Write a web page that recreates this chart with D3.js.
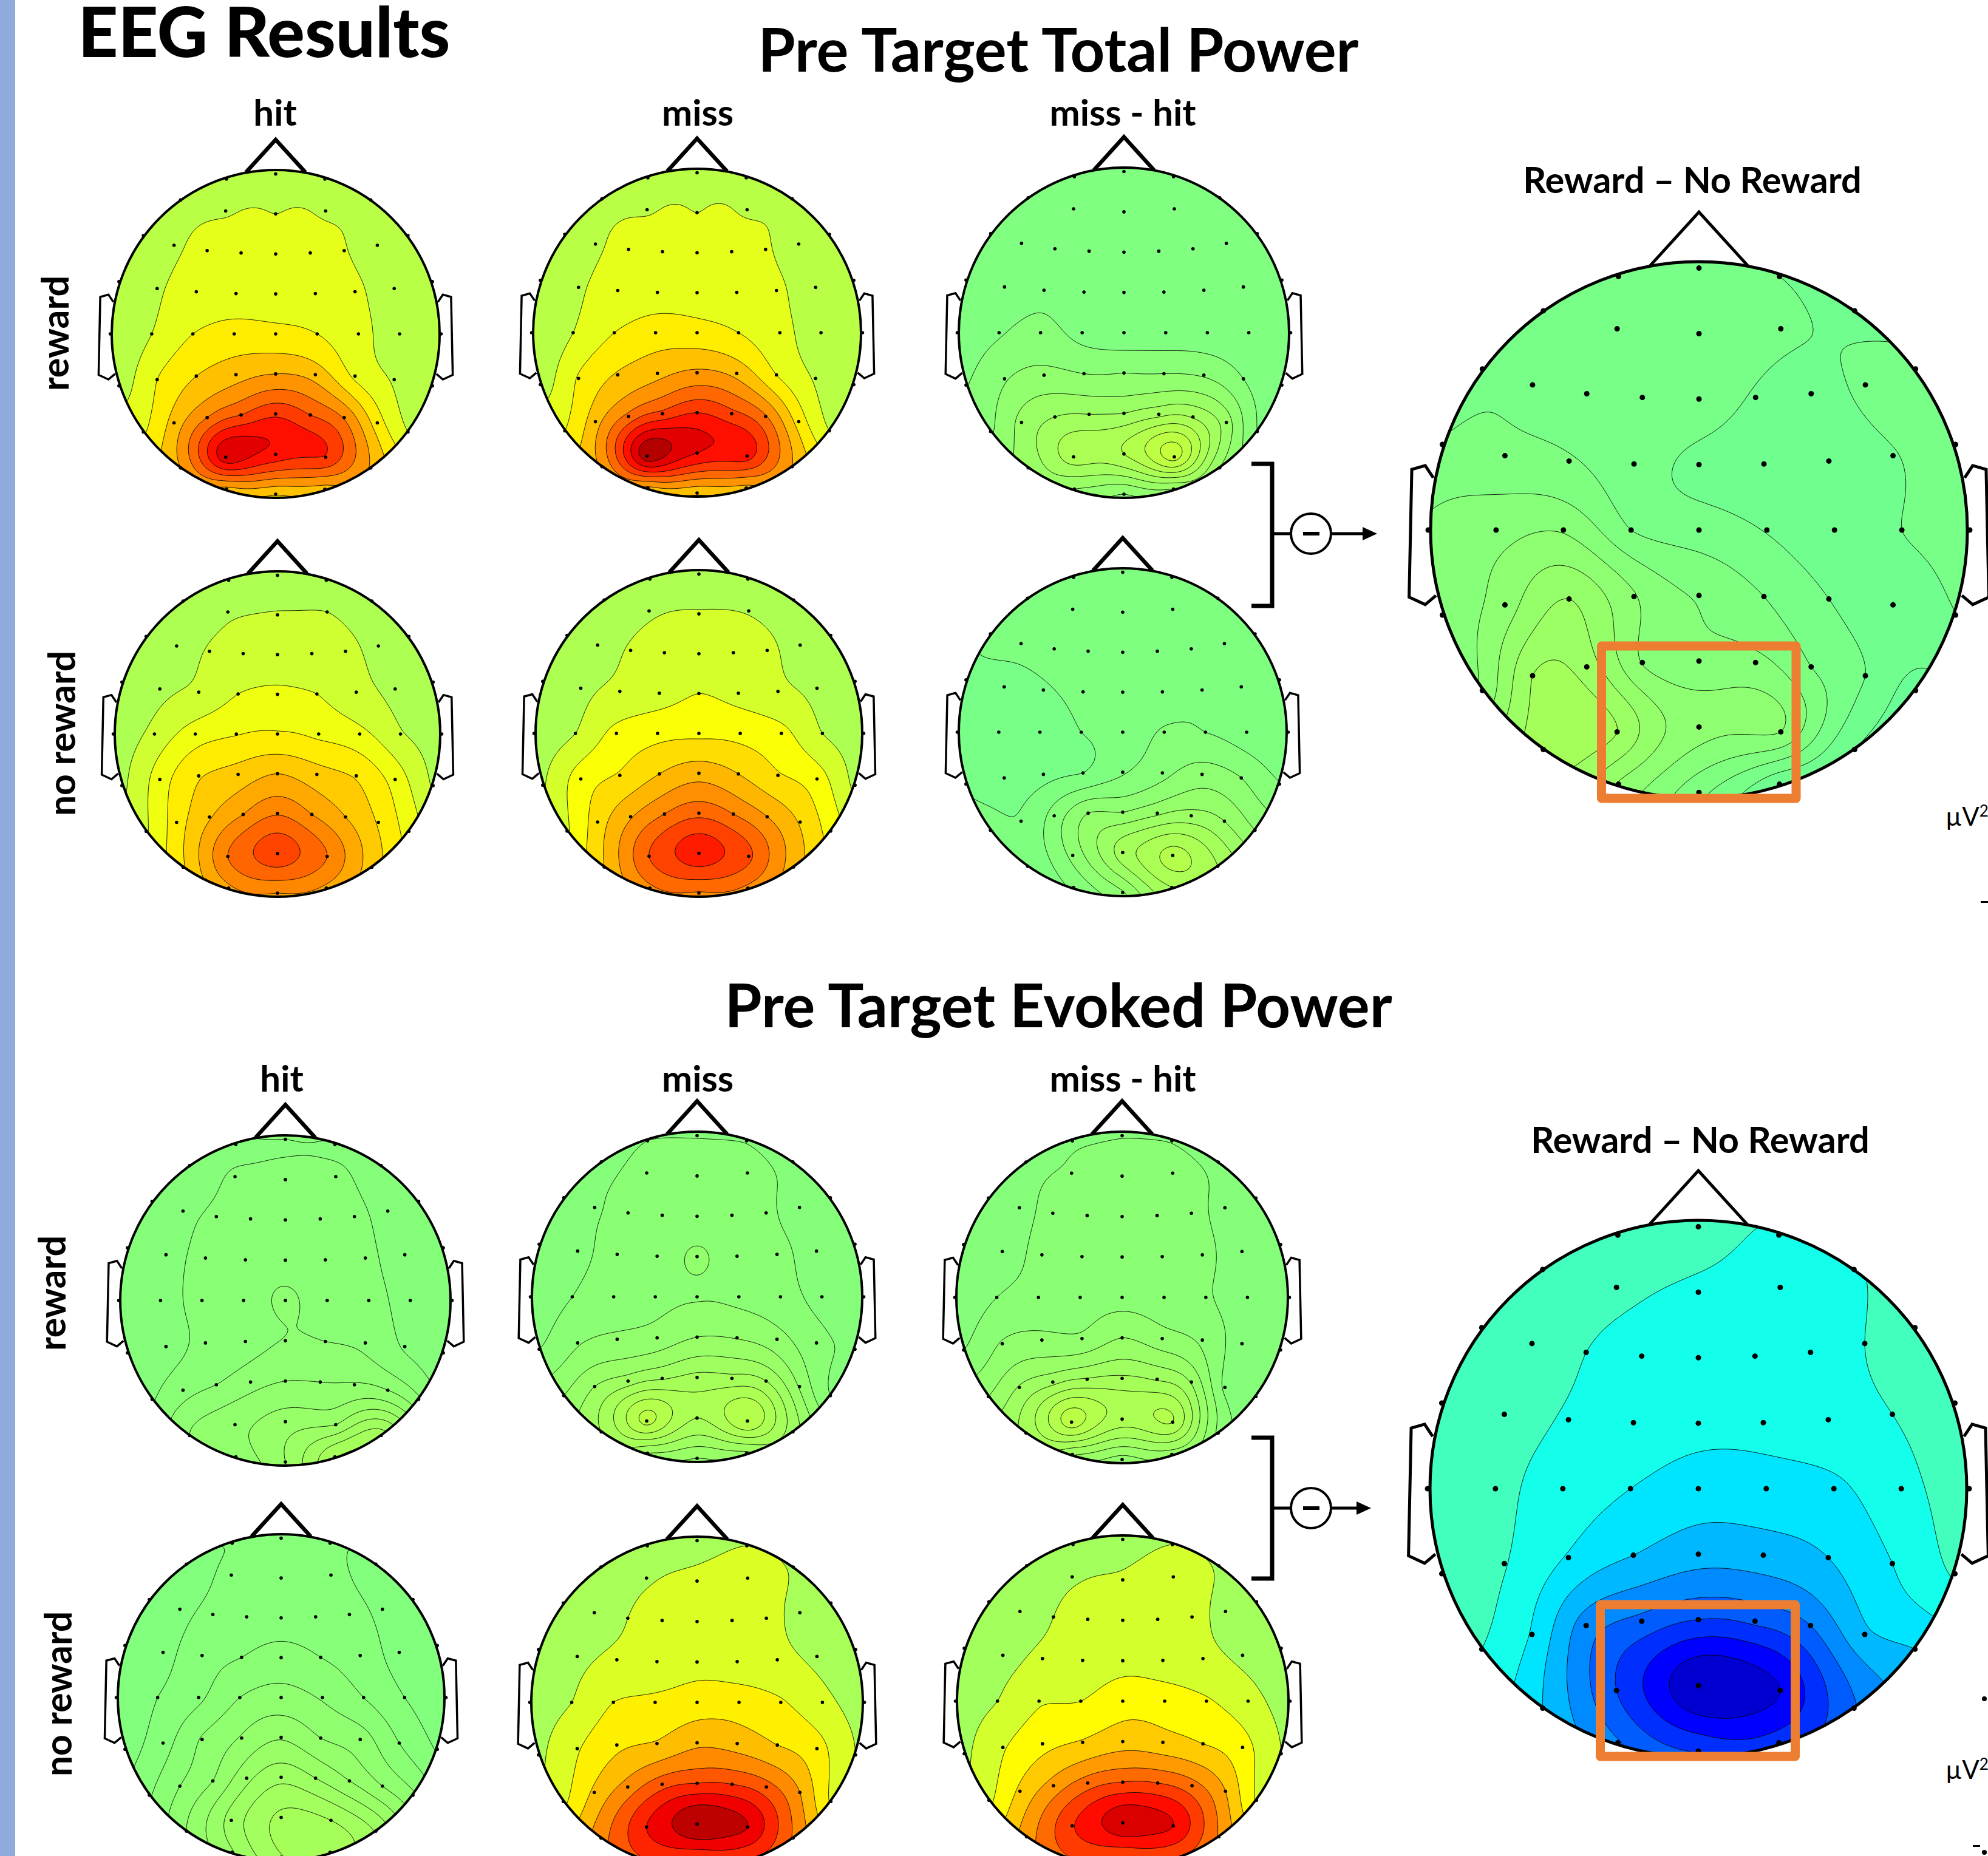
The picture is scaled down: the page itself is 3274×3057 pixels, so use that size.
<!DOCTYPE html>
<html>
<head>
<meta charset="utf-8">
<script src="https://cdnjs.cloudflare.com/ajax/libs/d3/7.8.5/d3.min.js"></script>
<style>
  body { margin: 0; background: #fff; }
  text { font-family: Lato, "Open Sans", sans-serif; fill: #000; }
</style>
</head>
<body>
<div class="chart"></div>
<script>
// 61 channel montage, head units (row by row, front to back)
const elecX = [0, -.30,.30, -.58,.58, -.305,0,.305, -.807,.807,
  -.62,-.418,-.211,0,.211,.418,.62, -.956,.956,
  -.723,-.484,-.242,0,.242,.484,.723,
  -1.009,-.756,-.505,-.253,0,.253,.505,.756,1.009, -.956,.956,
  -.723,-.484,-.242,0,.242,.484,.723, -.807,.807,
  -.62,-.418,-.211,0,.211,.418,.62, -.58,.58, -.305,0,.305, -.30,0,.30];
const elecY = [.976, .945,.945, .817,.817, .75,.732,.75, .60,.60,
  .541,.508,.494,.488,.494,.508,.541, .319,.319,
  .277,.257,.246,.244,.246,.257,.277,
  0,0,0,0,0,0,0,0,0, -.317,-.317,
  -.279,-.257,-.248,-.244,-.248,-.257,-.279, -.598,-.598,
  -.543,-.51,-.494,-.488,-.494,-.51,-.543, -.818,-.818, -.752,-.734,-.752, -.947,-.978,-.947];

// channel values, in contour-band units
const totalHitReward = [.3, .3,.3, .3,.3, .92,1.0,.9, .3,.3,
  .88,1.2,1.4,1.4,1.4,1.05,.6, .2,.2,
  .9,1.3,1.5,1.5,1.5,1.2,.5,
  .2,1.0,2.0,2.4,2.3,2.0,1.3,.6,.2, .6,.2,
  2.0,3.0,3.6,4.0,3.6,1.8,.9, 1.9,1.0,
  3.4,5.0,6.0,6.8,6.0,4.9,2.5, 4.0,3.9, 8.6,7.6,6.9, 3.7,3.1,3.6];
const totalMissReward = [.3, .3,.3, .3,.3, .92,1.0,.9, .3,.3,
  .88,1.25,1.5,1.5,1.5,1.1,.6, .2,.2,
  .9,1.3,1.6,1.6,1.5,1.2,.5,
  .2,1.0,2.0,2.5,2.4,2.0,1.3,.6,.2, .6,.2,
  2.1,3.1,3.7,4.2,3.7,2.0,.9, 2.0,1.0,
  3.6,5.3,6.3,7.0,6.3,5.1,2.6, 4.2,4.0, 9.6,8.0,7.4, 3.8,3.2,3.7];
const totalDiffReward = [.1, .1,.1, .1,.1, .1,.1,.1, .1,.1,
  .1,.1,.1,.1,.1,.1,.1, .1,.1,
  .4,.75,.4,.3,.3,.3,.2,
  .2,.9,1.3,.7,.45,.5,.5,.35,.15, .95,.2,
  1.9,2.3,2.0,2.0,2.0,1.9,1.0, 1.9,1.0,
  3.3,4.0,4.0,4.0,4.7,4.9,3.5, 3.4,3.0, 5.5,6.0,8.4, 3.0,2.0,3.0];
const totalHitNoReward = [.3, .4,.4, .3,.3, .9,1.05,1.0, .3,.3,
  .75,1.05,1.3,1.4,1.3,1.2,.75, .3,.3,
  .8,1.2,2.0,2.2,2.0,1.3,.8,
  .3,1.3,2.5,2.95,3.1,2.8,2.3,1.1,.4, .8,.9,
  2.5,3.9,4.4,5.0,4.4,3.9,2.6, 1.9,2.6,
  3.5,4.9,6.0,6.9,6.0,5.0,3.9, 3.9,4.5, 7.0,8.6,7.0, 5.8,6.0,5.8];
const totalMissNoReward = [.4, .5,.4, .3,.3, .9,1.05,.95, .3,.3,
  .75,1.05,1.3,1.4,1.35,1.15,.7, .3,.3,
  .8,1.2,1.6,2.0,1.7,1.2,.8,
  .3,1.0,2.3,2.7,2.8,2.7,2.3,1.0,.4, .9,.8,
  2.5,3.1,4.0,4.6,4.0,3.1,2.5, 1.9,2.6,
  3.5,4.9,6.0,6.7,6.0,5.0,3.9, 4.0,4.5, 7.0,8.6,7.2, 5.8,5.9,5.8];
const totalDiffNoReward = [1.2, 1.3,1.3, 1.3,1.3, 1.3,1.3,1.3, 1.2,1.3,
  1.2,1.3,1.3,1.3,1.3,1.3,1.3, .8,1.2,
  .7,.9,1.2,1.3,1.4,1.9,1.5,
  .9,.5,.5,1.0,1.5,2.1,2.0,1.5,1.2, .9,2.05,
  .6,.7,1.0,1.9,2.7,3.5,3.0, 1.3,4.0,
  1.1,2.4,4.0,4.0,4.8,5.4,5.0, 1.2,7.0, 3.3,6.5,8.4, 2.2,3.9,7.0];
const evokedHitReward = [1.0, .8,.9, .5,.5, 1.2,1.4,1.3, .4,.4,
  .7,1.2,1.4,1.5,1.4,1.3,.6, .3,.3,
  .6,1.3,1.6,1.7,1.5,1.2,.6,
  .3,.6,1.3,1.6,2.12,1.6,1.3,.7,.3, .4,.3,
  .7,1.2,1.6,2.03,2.0,1.8,.9, .9,2.2,
  1.6,2.0,2.6,3.0,3.0,3.1,3.0, 3.0,7.5, 3.7,4.5,5.0, 3.4,5.0,7.9];
const evokedMissReward = [.9, 1.0,.9, .4,.5, 1.3,1.4,1.3, .5,.5,
  .9,1.3,1.5,1.6,1.5,1.2,.6, .3,.3,
  .8,1.3,1.6,2.1,1.6,1.3,.6,
  .5,1.0,1.5,1.8,1.95,1.8,1.4,.7,.3, 1.0,.9,
  1.9,2.2,2.4,3.0,2.95,2.4,1.3, 3.0,1.0,
  4.0,4.5,4.9,5.3,5.3,5.0,2.9, 5.0,4.5, 8.3,6.0,7.9, 4.0,3.0,3.8];
const evokedDiffReward = [.9, .7,.9, .4,.5, 1.1,1.3,1.4, .4,.4,
  .7,1.3,1.5,1.5,1.5,1.4,.6, .3,.3,
  .7,1.2,1.4,1.5,1.5,1.3,.5,
  .4,1.0,1.3,1.6,1.7,1.5,1.1,.6,.3, 1.0,.5,
  2.1,2.3,2.2,3.0,2.4,1.8,.6, 3.0,.4,
  4.1,4.7,5.1,5.2,4.9,3.9,.8, 5.3,1.8, 8.5,6.5,7.0, 4.1,2.6,3.5];
const evokedHitNoReward = [1.05, 1.05,1.2, .5,.5, 1.3,1.4,1.3, .4,.4,
  .7,1.3,1.5,1.6,1.5,1.4,.75, .4,.4,
  .7,1.6,2.0,2.4,2.0,1.5,.7,
  .4,1.0,1.8,3.0,3.4,2.9,2.0,1.0,.3, .6,.9,
  1.6,3.1,4.1,4.9,4.0,3.5,2.0, 1.9,3.2,
  3.0,4.0,5.7,6.7,6.0,5.0,4.0, 4.0,6.9, 6.4,8.2,8.0, 5.9,7.9,8.6];
const evokedMissNoReward = [.5, .4,1.0, .3,.9, .9,1.2,1.3, .4,.4,
  .6,1.0,1.3,1.5,1.4,1.3,.7, .4,.4,
  .8,1.2,1.4,1.7,1.5,1.3,.8,
  .4,1.0,2.0,2.2,2.5,2.5,2.1,1.3,.5, .8,1.0,
  1.9,2.8,3.1,3.8,3.6,3.0,2.4, 1.8,1.9,
  3.2,4.4,5.6,6.0,6.0,5.4,4.0, 4.6,4.9, 7.0,8.9,8.0, 6.0,5.5,6.0];
const evokedDiffNoReward = [.5, .4,1.0, .3,.9, .9,1.1,1.3, .4,.4,
  .6,1.0,1.3,1.5,1.4,1.3,.7, .4,.4,
  .7,1.2,1.4,1.7,1.5,1.3,.8,
  .4,1.0,1.9,2.0,2.6,2.5,2.1,1.4,.5, .8,1.0,
  1.9,2.7,3.1,3.6,3.4,3.0,2.4, 1.8,1.9,
  3.2,4.4,5.5,6.0,6.0,5.4,4.0, 4.5,4.9, 6.9,8.7,8.0, 6.0,5.5,6.0];
const totalRewardDiff = [2.6, 2.6,2.0, 2.6,1.6, 2.7,2.6,2.2, 2.7,2.3,
  2.75,2.7,2.6,2.5,1.9,1.6,2.2, 3.1,2.3,
  3.3,3.1,2.4,1.8,1.5,1.5,1.95,
  4.2,4.6,4.9,3.0,2.5,1.95,1.5,2.0,2.3, 4.4,1.98,
  5.5,7.0,5.1,3.9,3.0,2.0,1.6, 5.2,.7,
  8.0,7.5,4.95,4.3,4.3,3.0,2.0, 8.5,1.0, 8.0,5.4,5.0, 5.9,3.3,1.2];
const evokedRewardDiff = [.5, .5,1.2, .4,1.1, .8,1.15,1.3, .4,.5,
  .6,1.0,1.3,1.4,1.4,1.3,1.0, .4,.4,
  .6,1.1,1.4,1.7,1.7,1.4,1.0,
  .4,.75,1.5,2.0,2.5,2.4,2.2,1.3,.5, .5,.9,
  .95,2.1,3.0,3.6,3.5,3.0,2.0, 1.0,3.0,
  2.1,4.5,5.3,6.0,5.8,5.0,3.2, 3.0,5.1, 6.0,8.9,8.0, 4.9,6.1,6.5];

// colour scale of the maps: jet, position 0..1
const jet = d3.scaleLinear()
  .domain([0, .125, .375, .625, .875, 1])
  .range(["#000080", "#0000ff", "#00ffff", "#ffff00", "#ff0000", "#800000"])
  .clamp(true);

const maps = [
  {vals: totalHitReward,    cx: 454,  cy: 550,  r: 270, base: .556, step: .0435, n: 8},
  {vals: totalMissReward,   cx: 1148, cy: 548,  r: 270, base: .556, step: .0435, n: 9},
  {vals: totalDiffReward,   cx: 1851, cy: 548,  r: 272, base: .5,   step: .0085, n: 8},
  {vals: totalHitNoReward,  cx: 457,  cy: 1209, r: 268, base: .5445, step: .033, n: 8},
  {vals: totalMissNoReward, cx: 1151, cy: 1208, r: 269, base: .5445, step: .038, n: 8},
  {vals: totalDiffNoReward, cx: 1849, cy: 1206, r: 270, base: .492, step: .00725, n: 8},
  {vals: evokedHitReward,   cx: 470,  cy: 2142, r: 272, base: .505, step: .0045, n: 8},
  {vals: evokedMissReward,  cx: 1148, cy: 2136, r: 272, base: .505, step: .0065, n: 8},
  {vals: evokedDiffReward,  cx: 1848, cy: 2137, r: 273, base: .505, step: .0065, n: 8},
  {vals: evokedHitNoReward, cx: 463,  cy: 2796, r: 269, base: .502, step: .0045, n: 8},
  {vals: evokedMissNoReward,cx: 1148, cy: 2804, r: 273, base: .54,  step: .05,   n: 8},
  {vals: evokedDiffNoReward,cx: 1849, cy: 2802, r: 273, base: .535, step: .047,  n: 8},
  {vals: totalRewardDiff,   cx: 2798, cy: 873,  r: 442, base: .478, step: .0072, n: 8, big: true},
  {vals: evokedRewardDiff,  cx: 2797, cy: 2452, r: 442, base: .44,  step: -.045, n: 8, big: true}
];

const svg = d3.select('.chart').append('svg')
  .attr('width', 3274)
  .attr('height', 3057)
  .style('display', 'block');

svg.append('rect').attr('width', 25).attr('height', 3057).attr('fill', '#8faadc');

// biharmonic spline through the channel values (same as EEGLAB's v4 griddata)
function green(d) { return d > 0 ? d * d * (Math.log(d) - 1) : 0; }

function solve(vals) {
  const n = vals.length;
  const A = vals.map((v, i) => elecX.map((x, j) =>
    green(Math.hypot(elecX[i] - x, elecY[i] - elecY[j]))).concat(v));
  for (let c = 0; c < n; c++) {
    let p = c;
    for (let i = c + 1; i < n; i++) if (Math.abs(A[i][c]) > Math.abs(A[p][c])) p = i;
    [A[c], A[p]] = [A[p], A[c]];
    for (let i = c + 1; i < n; i++) {
      const f = A[i][c] / A[c][c];
      for (let j = c; j <= n; j++) A[i][j] -= f * A[c][j];
    }
  }
  const w = new Array(n);
  for (let i = n - 1; i >= 0; i--) {
    let s = A[i][n];
    for (let j = i + 1; j < n; j++) s -= A[i][j] * w[j];
    w[i] = s / A[i][i];
  }
  return w;
}

const gridN = 181;
const gridU = d3.scaleLinear().domain([0.5, gridN - 0.5]).range([-1.1, 1.1]);

function fieldGrid(vals) {
  const w = solve(vals);
  const grid = new Float64Array(gridN * gridN);
  for (let j = 0; j < gridN; j++) {
    const v = -gridU(j + 0.5);
    for (let i = 0; i < gridN; i++) {
      const u = gridU(i + 0.5);
      let s = 0;
      for (let k = 0; k < w.length; k++) s += w[k] * green(Math.hypot(u - elecX[k], v - elecY[k]));
      grid[j * gridN + i] = s;
    }
  }
  return grid;
}

const nose = [[-.182, .985], [0, 1.185], [.182, .985]];
const earL = [[-.99, .195], [-1.02, .24], [-1.07, .226], [-1.08, -.25], [-1.02, -.278], [-.98, -.244]];

maps.forEach((m, idx) => {
  const xs = d3.scaleLinear().domain([-1, 1]).range([m.cx - m.r, m.cx + m.r]);
  const ys = d3.scaleLinear().domain([-1, 1]).range([m.cy + m.r, m.cy - m.r]);
  const g = svg.append('g').attr('class', 'head');
  const lw = m.big ? 5 : 4;
  const line = d3.line().x(d => xs(d[0])).y(d => ys(d[1]));

  g.append('path').attr('d', line(nose)).attr('fill', 'none').attr('stroke', '#000').attr('stroke-width', m.big ? 5 : 6.5);
  [1, -1].forEach(s => {
    g.append('path').attr('d', line(earL.map(d => [d[0] * s, d[1]])))
      .attr('fill', 'none').attr('stroke', '#000').attr('stroke-width', m.big ? 5 : 3.5);
  });

  const clipId = 'clip' + idx;
  svg.append('clipPath').attr('id', clipId).append('circle')
    .attr('cx', m.cx).attr('cy', m.cy).attr('r', m.r);

  const grid = fieldGrid(m.vals);
  const contours = d3.contours().size([gridN, gridN]).thresholds(d3.range(1, m.n + 1))(grid);
  const path = d3.geoPath(d3.geoTransform({
    point(x, y) { this.stream.point(xs(gridU(x)), ys(-gridU(y))); }
  }));

  const body = g.append('g').attr('clip-path', `url(#${clipId})`);
  body.append('circle').attr('cx', m.cx).attr('cy', m.cy).attr('r', m.r)
    .attr('fill', jet(m.base));
  body.selectAll('path').data(contours).enter().append('path')
    .attr('d', path)
    .attr('fill', d => jet(m.base + d.value * m.step))
    .attr('stroke', '#000')
    .attr('stroke-opacity', 0.85)
    .attr('stroke-width', 1);

  g.append('circle').attr('cx', m.cx).attr('cy', m.cy).attr('r', m.r)
    .attr('fill', 'none').attr('stroke', '#000').attr('stroke-width', lw);

  g.selectAll('.dot').data(elecX).enter().append('circle')
    .attr('class', 'dot')
    .attr('cx', d => xs(d))
    .attr('cy', (d, i) => ys(elecY[i]))
    .attr('r', m.big ? 4.5 : 2.8)
    .attr('fill', '#000');
});

// text
function label(t, x, y, size, weight, rot) {
  svg.append('text').text(t)
    .attr('transform', rot ? `translate(${x},${y}) rotate(-90)` : `translate(${x},${y})`)
    .attr('text-anchor', 'middle')
    .attr('font-size', size)
    .attr('font-weight', weight || 700);
}
label('EEG Results', 435, 94, 115, 900);
label('Pre Target Total Power', 1743, 118, 99, 700);
label('Pre Target Evoked Power', 1743, 1692, 99, 700);
[[453, 'hit'], [1149, 'miss'], [1849, 'miss - hit']].forEach(d => label(d[1], d[0], 207, 60));
[[464, 'hit'], [1149, 'miss'], [1849, 'miss - hit']].forEach(d => label(d[1], d[0], 1798, 60));
label('Reward \u2013 No Reward', 2787, 318, 59.5);
label('Reward \u2013 No Reward', 2800, 1899, 59.5);
label('reward', 113, 549, 61, 700, true);
label('no reward', 124, 1208, 60.5, 700, true);
label('reward', 108, 2130, 61, 700, true);
label('no reward', 118, 2790, 60.5, 700, true);

[1360, 2930].forEach(y => {
  const t = svg.append('text').attr('x', 3204).attr('y', y).attr('font-size', 42);
  t.append('tspan').text('\u00b5V');
  t.append('tspan').text('2').attr('font-size', 26).attr('dy', -15);
});
svg.append('rect').attr('x', 3262).attr('y', 1484).attr('width', 12).attr('height', 3);
svg.append('rect').attr('x', 3249).attr('y', 3039).attr('width', 12).attr('height', 3);
svg.append('circle').attr('cx', 3268).attr('cy', 2798).attr('r', 4);
svg.append('circle').attr('cx', 3268).attr('cy', 3051).attr('r', 4);

// brackets with the minus sign and arrow
[[764, 998, 879, 2268], [2368, 2600, 2484, 2258]].forEach(b => {
  svg.append('path').attr('d', `M2061,${b[0]}H2095V${b[1]}H2061`)
    .attr('fill', 'none').attr('stroke', '#000').attr('stroke-width', 7);
  svg.append('line').attr('x1', 2095).attr('x2', b[3] - 20).attr('y1', b[2]).attr('y2', b[2])
    .attr('stroke', '#000').attr('stroke-width', 5);
  svg.append('path').attr('d', `M${b[3]},${b[2]}L${b[3] - 24},${b[2] - 11}V${b[2] + 11}Z`).attr('fill', '#000');
  svg.append('circle').attr('cx', 2159).attr('cy', b[2]).attr('r', 33)
    .attr('fill', '#fff').attr('stroke', '#000').attr('stroke-width', 4);
  svg.append('rect').attr('x', 2146).attr('y', b[2] - 3).attr('width', 27).attr('height', 6);
});

// highlighted regions
[[2637.5, 1064, 320.5, 251], [2635.5, 2643, 321, 250]].forEach(b => {
  svg.append('rect').attr('x', b[0]).attr('y', b[1]).attr('width', b[2]).attr('height', b[3])
    .attr('fill', 'none').attr('stroke', '#ed7d31').attr('stroke-width', 15).attr('stroke-linejoin', 'round');
});
</script>
</body>
</html>
